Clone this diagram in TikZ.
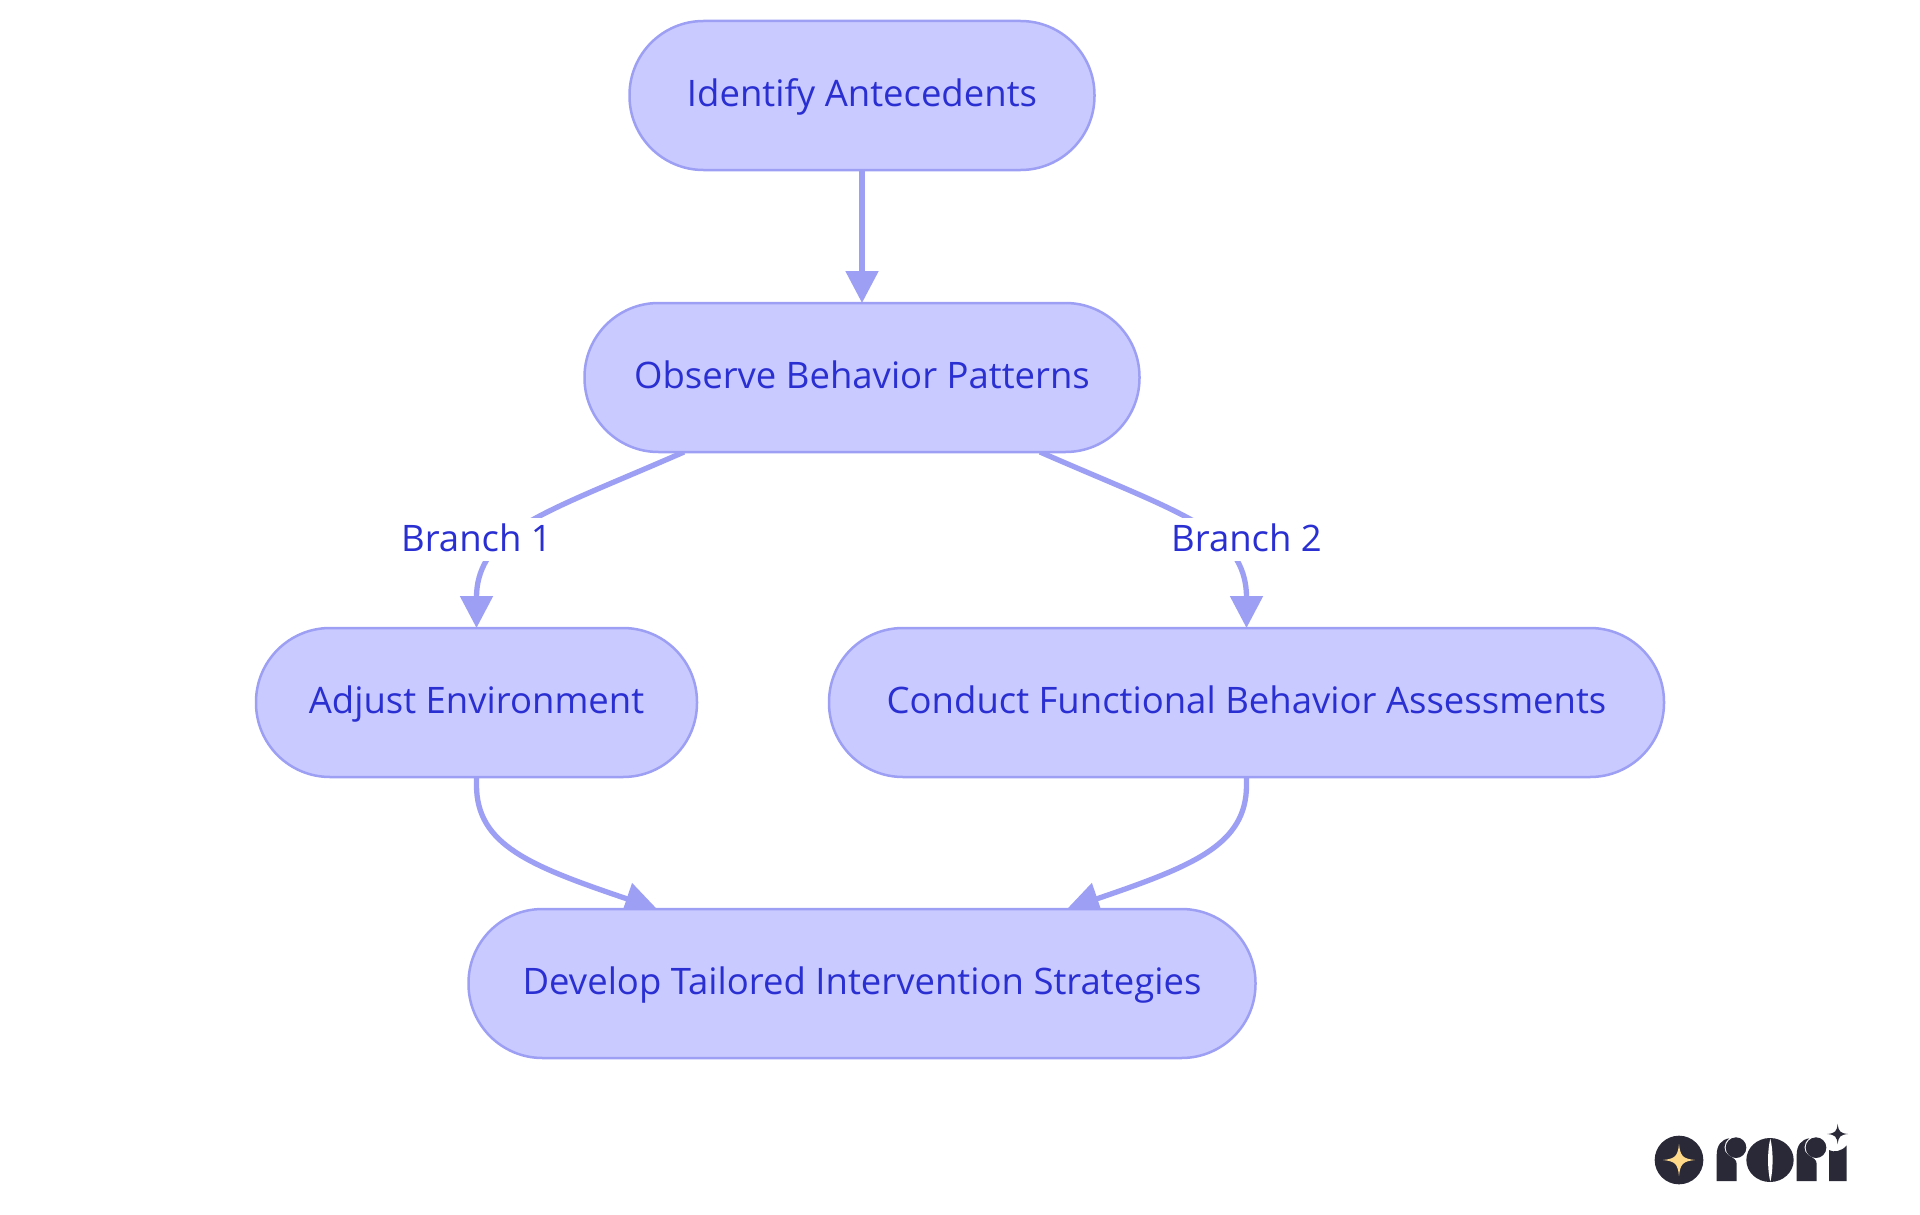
\documentclass[tikz,border=0pt]{standalone}
\usepackage{fontspec}
\setmainfont{Open Sans}
\usetikzlibrary{arrows.meta,calc}
\pgfdeclarelayer{wires}
\pgfsetlayers{wires,main}
\definecolor{nodefill}{HTML}{C9CAFF}
\definecolor{nodeline}{HTML}{9C9FF4}
\definecolor{inktext}{HTML}{2A2FD2}
\definecolor{logodark}{HTML}{2A2937}
\definecolor{logogold}{HTML}{FFD98A}
\newcommand{\logostar}[4]{\fill[#4] (#1,#2-#3) .. controls (#1+0.08*#3,#2-0.24*#3) and (#1+0.24*#3,#2-0.08*#3) .. (#1+#3,#2) .. controls (#1+0.24*#3,#2+0.08*#3) and (#1+0.08*#3,#2+0.24*#3) .. (#1,#2+#3) .. controls (#1-0.08*#3,#2+0.24*#3) and (#1-0.24*#3,#2+0.08*#3) .. (#1-#3,#2) .. controls (#1-0.24*#3,#2-0.08*#3) and (#1-0.08*#3,#2-0.24*#3) .. cycle;}
\newcommand{\logor}[1]{%
  \fill[logodark,xshift=#1pt] (290,243) -- (290,165) .. controls (290,135) and (305,118) .. (328,115) .. controls (308,130) and (310,155) .. (325,165) .. controls (340,175) and (350,178) .. (350,192) -- (350,243) -- cycle;
  \fill[logodark,xshift=#1pt] (348,143) circle[radius=31];}
\tikzset{
  x=1pt,y=-1pt,
  flow/.style={draw=nodeline,line width=2.5pt,fill=nodefill,rounded corners=74pt,minimum height=149pt,inner sep=0pt,outer sep=0pt,text=inktext,text height=29pt,text depth=7pt,font=\fontsize{36.5}{44}\selectfont},
  edge/.style={draw=nodeline,line width=5.3pt,-{Triangle[length=32pt,width=32pt]}},
  branchlabel/.style={fill=white,inner sep=0pt,outer sep=0pt,text height=31pt,text depth=7pt,minimum height=43pt,text=inktext,font=\fontsize{36.5}{44}\selectfont}
}
\begin{document}
\begin{tikzpicture}
\useasboundingbox (0,0) rectangle (1920,1215);
% boxes
\node[flow,minimum width=465pt] (ant) at (862,95.5) {Identify Antecedents};
\node[flow,minimum width=555pt] (obs) at (862,377.5) {Observe Behavior Patterns};
\node[flow,minimum width=441pt] (adj) at (476.5,702.5) {Adjust Environment};
\node[flow,minimum width=835pt] (con) at (1246.5,702.5) {Conduct Functional Behavior Assessments};
\node[flow,minimum width=787pt] (dev) at (862,983.5) {Develop Tailored Intervention Strategies};
\node[branchlabel] (b1) at (476.5,539) {Branch 1};
\node[branchlabel] (b2) at (1246.5,539) {Branch 2};
% connectors, under the boxes
\begin{pgfonlayer}{wires}
\coordinate (l1) at ($(obs.south)+(-178,0)$);
\coordinate (l2) at ($(obs.south)+(178,0)$);
\coordinate (d1) at ($(dev.north)+(-205,0)$);
\coordinate (d2) at ($(dev.north)+(205,0)$);
\draw[edge] (ant.south) -- (obs.north);
\draw[edge] (l1) .. controls (604,487) and (550,507) .. (516,530) .. controls (490,548) and (476.5,570) .. (adj.north);
\draw[edge] (l2) .. controls (1120,487) and (1174,507) .. (1208,530) .. controls (1234,548) and (1246.5,570) .. (con.north);
\draw[edge] (adj.south) -- (476.5,785) .. controls (476.5,845) and (530,866) .. (d1);
\draw[edge] (con.south) -- (1246.5,785) .. controls (1246.5,845) and (1193,866) .. (d2);
\end{pgfonlayer}
% logo
\begin{scope}[shift={(1620,1100)},scale=1/3]
\fill[logodark] (177,180) circle[radius=73];
\logostar{177}{180}{48}{logogold}
\logor{0}
\logor{240}
\fill[logodark] (450,180) ellipse[x radius=71,y radius=66];
\fill[white] (451,116) .. controls (442,150) and (442,210) .. (451,245) .. controls (460,210) and (460,150) .. cycle;
\fill[logodark] (627,243) -- (627,150) .. controls (640,158) and (665,155) .. (680,136) -- (680,243) -- cycle;
\logostar{653}{102}{31}{logodark}
\end{scope}
\end{tikzpicture}
\end{document}
